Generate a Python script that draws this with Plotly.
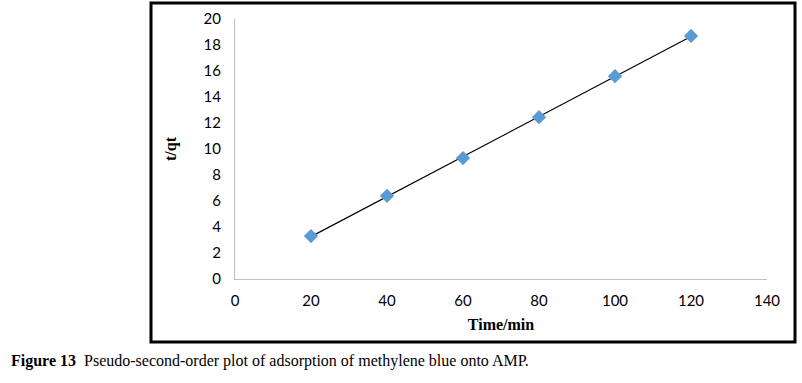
import numpy as np
import plotly.graph_objects as go

time_min = [20, 40, 60, 80, 100, 120]
t_over_qt = [3.3, 6.4, 9.3, 12.45, 15.6, 18.7]
x_ticks = [0, 20, 40, 60, 80, 100, 120, 140]
y_ticks = [0, 2, 4, 6, 8, 10, 12, 14, 16, 18, 20]

slope, intercept = np.polyfit(time_min, t_over_qt, 1)
fit_x = [min(time_min), max(time_min)]
fit_y = [slope * v + intercept for v in fit_x]

fig = go.Figure()
fig.add_trace(go.Scatter(x=fit_x, y=fit_y, mode="lines",
                         line=dict(color="black", width=1.2), hoverinfo="skip"))
fig.add_trace(go.Scatter(x=time_min, y=t_over_qt, mode="markers",
                         marker=dict(symbol="diamond", size=11, color="#5B9BD5",
                                     line=dict(width=0))))

L, R, T, B = 235, 35, 19, 104
W, H = 802 - L - R, 383 - T - B
def px(x):
    return (x - L) / W
def py(y):
    return (383 - B - y) / H

fig.add_shape(type="rect", xref="paper", yref="paper",
              x0=px(151), x1=px(795), y0=py(342), y1=py(3),
              line=dict(color="black", width=3), layer="above")

fig.add_annotation(xref="paper", yref="paper", x=px(9), y=py(361),
                   xanchor="left", yanchor="middle", showarrow=False,
                   text="<b>Figure 13</b>  Pseudo-second-order plot of adsorption of methylene blue onto AMP.",
                   font=dict(family="Liberation Serif", size=16, color="black"))

fig.update_layout(
    width=802, height=383,
    margin=dict(l=L, r=R, t=T, b=B, autoexpand=False),
    paper_bgcolor="white", plot_bgcolor="white",
    showlegend=False,
    xaxis=dict(range=[0, 140], tickvals=x_ticks, showgrid=False, zeroline=False,
               showline=True, linecolor="#BFBFBF", linewidth=1,
               ticks="outside", ticklen=8, tickcolor="rgba(0,0,0,0)", automargin=False,
               tickfont=dict(family="Lato", size=15, color="black"),
               title=dict(text="<b>Time/min</b>", standoff=10,
                          font=dict(family="Liberation Serif", size=16, color="black"))),
    yaxis=dict(range=[0, 20], tickvals=y_ticks, showgrid=False, zeroline=False,
               showline=True, linecolor="#BFBFBF", linewidth=1,
               ticks="outside", ticklen=10, tickcolor="rgba(0,0,0,0)", automargin=False,
               tickfont=dict(family="Lato", size=15, color="black"),
               title=dict(text="<b>t/qt</b>", standoff=22,
                          font=dict(family="Liberation Serif", size=16, color="black"))),
)

fig.write_html("out.html", config={"displayModeBar": False},
               post_script="document.body.style.margin='0';document.body.style.overflow='hidden';")
